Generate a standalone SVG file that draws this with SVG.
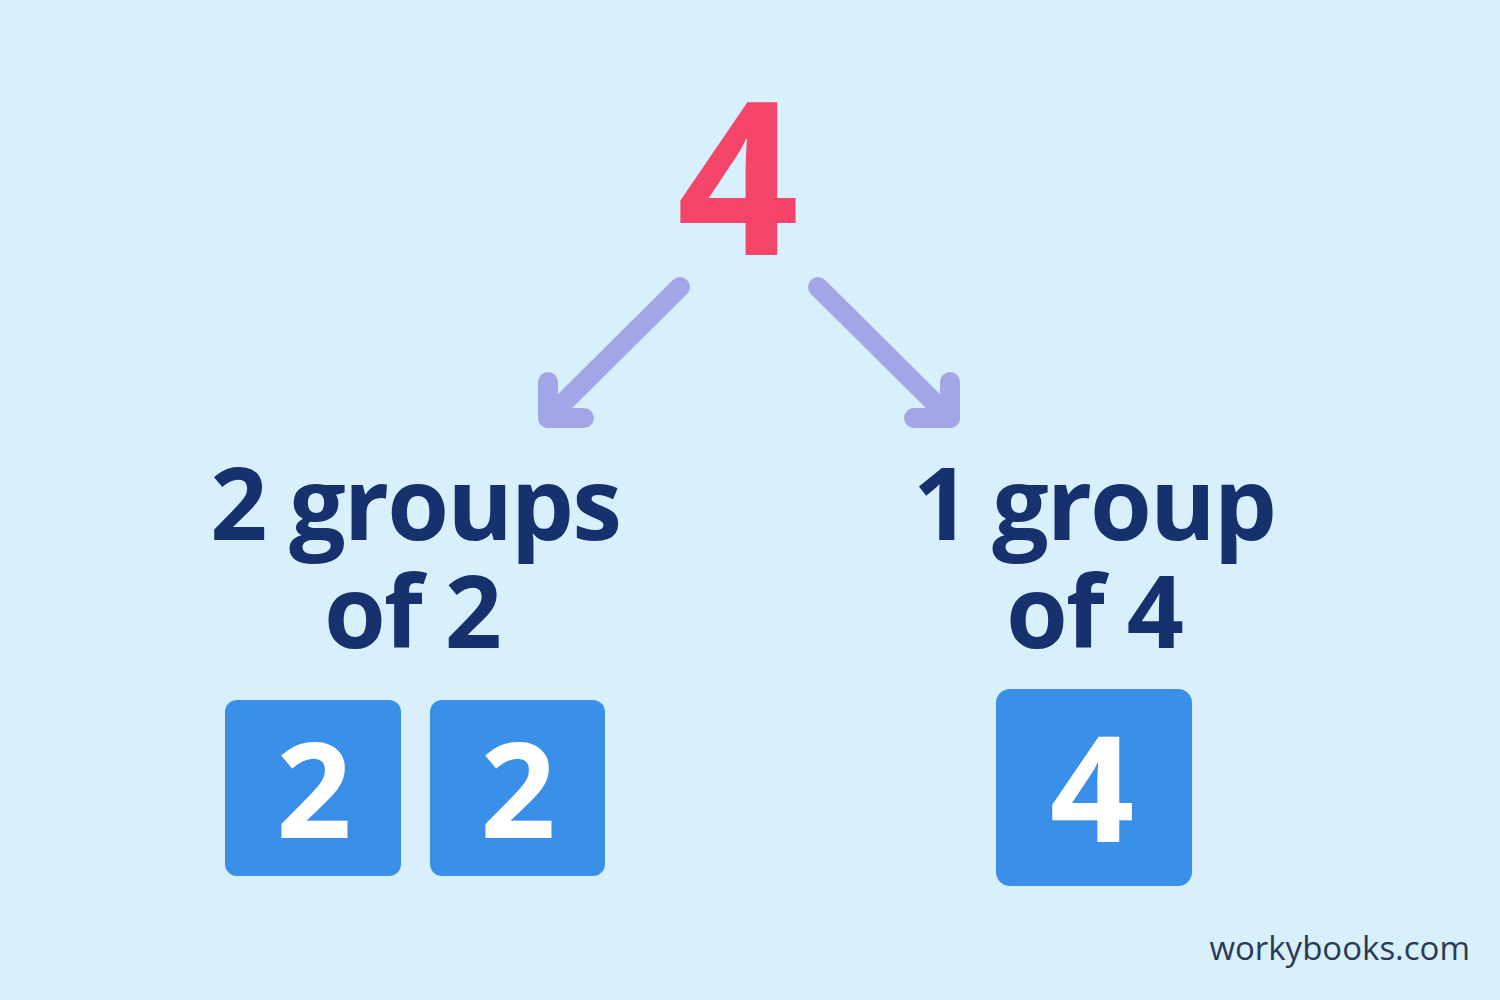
<svg xmlns="http://www.w3.org/2000/svg" width="1500" height="1000" viewBox="0 0 1500 1000">
<style>
.lbl{font-family:"Open Sans","Liberation Sans",sans-serif;font-weight:700;fill:#17306e;text-anchor:middle;letter-spacing:-2px}
.box{fill:#3a8fe8}
.dig{font-family:"Open Sans","Liberation Sans",sans-serif;font-weight:700;fill:#ffffff;text-anchor:middle}
.arr{fill:none;stroke:#a3a6e6;stroke-width:20;stroke-linecap:round;stroke-linejoin:round}
</style>
<rect width="1500" height="1000" fill="#d8effc"/>
<g id="top">
<text x="738" y="255" class="lbl" style="fill:#f5456a;font-size:214px;letter-spacing:0">4</text>
</g>
<g id="connectors">
<path class="arr" d="M680 287 L548 418"/>
<path class="arr" d="M548 382 L548 418 L584 418"/>
<path class="arr" d="M818 287 L950 418"/>
<path class="arr" d="M950 382 L950 418 L914 418"/>
</g>
<g id="left-label">
<text x="415" y="540" class="lbl" font-size="100">2 groups</text>
<text x="412" y="648" class="lbl" font-size="100">of 2</text>
</g>
<g id="right-label">
<text x="1094" y="540" class="lbl" font-size="100">1 group</text>
<text x="1094" y="648" class="lbl" font-size="100">of 4</text>
</g>
<g id="box-left-1">
<rect x="225" y="700" width="176" height="176" rx="12" class="box"/>
<text x="314" y="838" class="dig" font-size="132">2</text>
</g>
<g id="box-left-2">
<rect x="430" y="700" width="175" height="176" rx="12" class="box"/>
<text x="518" y="838" class="dig" font-size="132">2</text>
</g>
<g id="box-right">
<rect x="996" y="689" width="196" height="197" rx="14" class="box"/>
<text x="1092" y="842" class="dig" font-size="148">4</text>
</g>
<g id="footer">
<text x="1470" y="960" font-family="'Open Sans','Liberation Sans',sans-serif" font-size="33" fill="#2b3a55" text-anchor="end">workybooks.com</text>
</g>
</svg>
